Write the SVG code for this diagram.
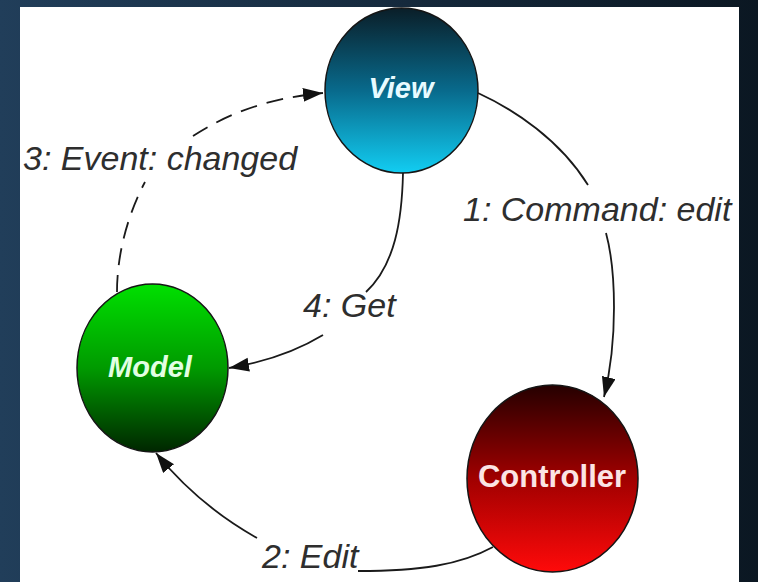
<svg xmlns="http://www.w3.org/2000/svg" width="758" height="582" viewBox="0 0 758 582">
<defs>
<linearGradient id="bg" x1="0" y1="0" x2="1" y2="0">
<stop offset="0" stop-color="#213e5a"/>
<stop offset="1" stop-color="#0b1722"/>
</linearGradient>
<linearGradient id="gView" x1="0" y1="0" x2="0" y2="1">
<stop offset="0" stop-color="#0a1e28"/>
<stop offset="0.5" stop-color="#086a8c"/>
<stop offset="1" stop-color="#12cdf2"/>
</linearGradient>
<linearGradient id="gModel" x1="0" y1="0" x2="0" y2="1">
<stop offset="0" stop-color="#00e000"/>
<stop offset="0.5" stop-color="#009a00"/>
<stop offset="1" stop-color="#002600"/>
</linearGradient>
<linearGradient id="gCtrl" x1="0" y1="0" x2="0" y2="1">
<stop offset="0" stop-color="#250000"/>
<stop offset="0.5" stop-color="#a00000"/>
<stop offset="1" stop-color="#ff0a0a"/>
</linearGradient>
<marker id="arrow" markerUnits="userSpaceOnUse" markerWidth="22" markerHeight="16" refX="20" refY="7" orient="auto">
<path d="M0,0 L20,7 L0,14 z" fill="#111"/>
</marker>
<style>
.node { stroke: #151515; stroke-width: 1.5; }
.ntext { font-family: "Liberation Sans", Arial, sans-serif; font-weight: bold; text-anchor: middle; }
.label { font-family: "Liberation Sans", Arial, sans-serif; font-style: italic; font-size: 34px; fill: #2e2e2e; }
.conn { fill: none; stroke: #1a1a1a; stroke-width: 1.8; }
.dash { stroke-dasharray: 17 10; }
</style>
</defs>
<rect x="0" y="0" width="758" height="582" fill="url(#bg)"/>
<rect x="20" y="7" width="719" height="575" fill="#ffffff"/>

<g id="connectors">
<path class="conn" d="M478,93 C515,110 560,140 588,185"/>
<path class="conn" d="M606,233 C616,270 618,340 604,397" marker-end="url(#arrow)"/>
<path class="conn" d="M493,547 C460,565 420,571 358,571"/>
<path class="conn" d="M257,538 C225,520 190,495 156,453" marker-end="url(#arrow)"/>
<path class="conn dash" d="M117,292 C117,250 130,210 145,182"/>
<path class="conn dash" d="M193,136 C230,112 270,98 323,93" marker-end="url(#arrow)"/>
<path class="conn" d="M403,173 C402,220 395,265 366,292"/>
<path class="conn" d="M323,335 C295,352 265,362 229,368" marker-end="url(#arrow)"/>
</g>

<g id="view">
<ellipse class="node" cx="401.5" cy="90.5" rx="76.5" ry="82.5" fill="url(#gView)"/>
<text class="ntext" x="401" y="98" font-size="29" font-style="italic" fill="#e8fbff">View</text>
</g>
<g id="model">
<ellipse class="node" cx="152.5" cy="368" rx="75.5" ry="84" fill="url(#gModel)"/>
<text class="ntext" x="150" y="377" font-size="29" font-style="italic" fill="#e2ffe2">Model</text>
</g>
<g id="controller">
<ellipse class="node" cx="552.5" cy="478.5" rx="85.5" ry="93.5" fill="url(#gCtrl)"/>
<text class="ntext" x="552" y="487" font-size="31" fill="#fbe4e4">Controller</text>
</g>

<g id="labels">
<text class="label" x="23" y="170">3: Event: changed</text>
<text class="label" x="463" y="221">1: Command: edit</text>
<text class="label" x="303" y="317">4: Get</text>
<text class="label" x="262" y="568">2: Edit</text>
</g>
</svg>
